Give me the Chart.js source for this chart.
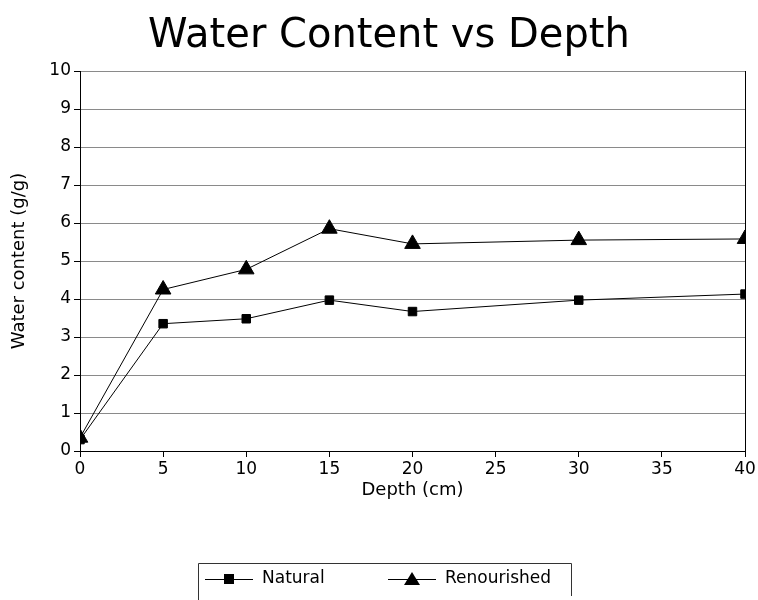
<!DOCTYPE html>
<html>
<head>
<meta charset="utf-8">
<script src="https://cdn.jsdelivr.net/npm/chart.js@4"></script>
<style>
  html, body { margin: 0; padding: 0; background: #fff; }
  #wrap { width: 758px; height: 600px; }
</style>
</head>
<body>
<div id="wrap"><canvas id="chart" width="758" height="600"></canvas></div>
<script>
// ====== DATA
const depths = [0, 5, 10, 15, 20, 30, 40];
const naturalValues = [0.3, 3.35, 3.48, 3.97, 3.67, 3.97, 4.13];
const renourishedValues = [0.35, 4.25, 4.78, 5.85, 5.45, 5.55, 5.58];
const seriesNames = ['Natural', 'Renourished'];
const chartTitle = 'Water Content vs Depth';

const FONT = '"DejaVu Sans", "Liberation Sans", Arial, sans-serif';

// title drawn by hand so it can sit a little right of centre, like the scan
const scanTitle = {
  id: 'scanTitle',
  afterDraw(chart) {
    const ctx = chart.ctx;
    ctx.save();
    ctx.fillStyle = '#000';
    ctx.font = '40px ' + FONT;
    ctx.textAlign = 'center';
    ctx.textBaseline = 'alphabetic';
    ctx.fillText(chartTitle, 389, 47);
    ctx.restore();
  }
};

// legend drawn by hand: line + marker + label, boxed on top/left/right
const boxLegend = {
  id: 'boxLegend',
  afterDraw(chart) {
    const ctx = chart.ctx;
    const items = [
      { x: 205, label: seriesNames[0], style: 'rect' },
      { x: 388, label: seriesNames[1], style: 'triangle' }
    ];
    const y = 579;
    ctx.save();
    ctx.strokeStyle = '#333';
    ctx.lineWidth = 1;
    ctx.beginPath();
    ctx.moveTo(198.5, 600);
    ctx.lineTo(198.5, 563.5);
    ctx.lineTo(571.5, 563.5);
    ctx.lineTo(571.5, 596);
    ctx.stroke();
    items.forEach(it => {
      ctx.strokeStyle = '#000';
      ctx.beginPath();
      ctx.moveTo(it.x, y + 0.5);
      ctx.lineTo(it.x + 48, y + 0.5);
      ctx.stroke();
      ctx.fillStyle = '#000';
      const cx = it.x + 24;
      if (it.style === 'rect') {
        ctx.fillRect(cx - 5, y - 5, 10, 10);
      } else {
        ctx.beginPath();
        ctx.moveTo(cx, y - 7);
        ctx.lineTo(cx + 8, y + 6);
        ctx.lineTo(cx - 8, y + 6);
        ctx.closePath();
        ctx.fill();
      }
      ctx.font = '17px ' + FONT;
      ctx.textBaseline = 'middle';
      ctx.textAlign = 'left';
      ctx.fillText(it.label, it.x + 57, y);
    });
    ctx.restore();
  }
};

const ctx = document.getElementById('chart').getContext('2d');
new Chart(ctx, {
  type: 'line',
  data: {
    datasets: [
      {
        label: seriesNames[0],
        data: depths.map((d, i) => ({ x: d, y: naturalValues[i] })),
        borderColor: '#000',
        backgroundColor: '#000',
        borderWidth: 1,
        pointStyle: 'rect',
        pointRadius: 6,
        pointHoverRadius: 6,
        tension: 0
      },
      {
        label: seriesNames[1],
        data: depths.map((d, i) => ({ x: d, y: renourishedValues[i] })),
        borderColor: '#000',
        backgroundColor: '#000',
        borderWidth: 1,
        pointStyle: 'triangle',
        pointRadius: 9,
        pointHoverRadius: 9,
        tension: 0
      }
    ]
  },
  options: {
    responsive: false,
    animation: false,
    layout: { padding: { top: 71, left: 0, right: 13, bottom: 95 } },
    plugins: {
      legend: { display: false },
      tooltip: { enabled: false },
      title: { display: false }
    },
    scales: {
      x: {
        type: 'linear',
        min: 0,
        max: 40,
        ticks: { stepSize: 5, color: '#000', font: { family: FONT, size: 17 }, padding: 2 },
        grid: {
          drawOnChartArea: true,
          color: c => (c.tick && c.tick.value === 40) ? '#000' : 'rgba(0,0,0,0)',
          tickColor: '#000',
          tickLength: 6
        },
        border: { color: '#000' },
        title: {
          display: true,
          text: 'Depth (cm)',
          color: '#000',
          font: { family: FONT, size: 18 },
          padding: { top: 0 }
        },
        afterFit: s => { s.height = 54; }
      },
      y: {
        min: 0,
        max: 10,
        ticks: { stepSize: 1, color: '#000', font: { family: FONT, size: 17 }, padding: 3 },
        grid: {
          color: '#8a8a8a',
          tickColor: '#000',
          tickLength: 6,
          borderDash: [10, 3]
        },
        border: { color: '#000', dash: [] },
        title: {
          display: true,
          text: 'Water content (g/g)',
          color: '#000',
          font: { family: FONT, size: 18 },
          padding: { top: 9, bottom: 0 }
        },
        afterFit: s => { s.width = 80; }
      }
    }
  },
  plugins: [scanTitle, boxLegend]
});
</script>
</body>
</html>
